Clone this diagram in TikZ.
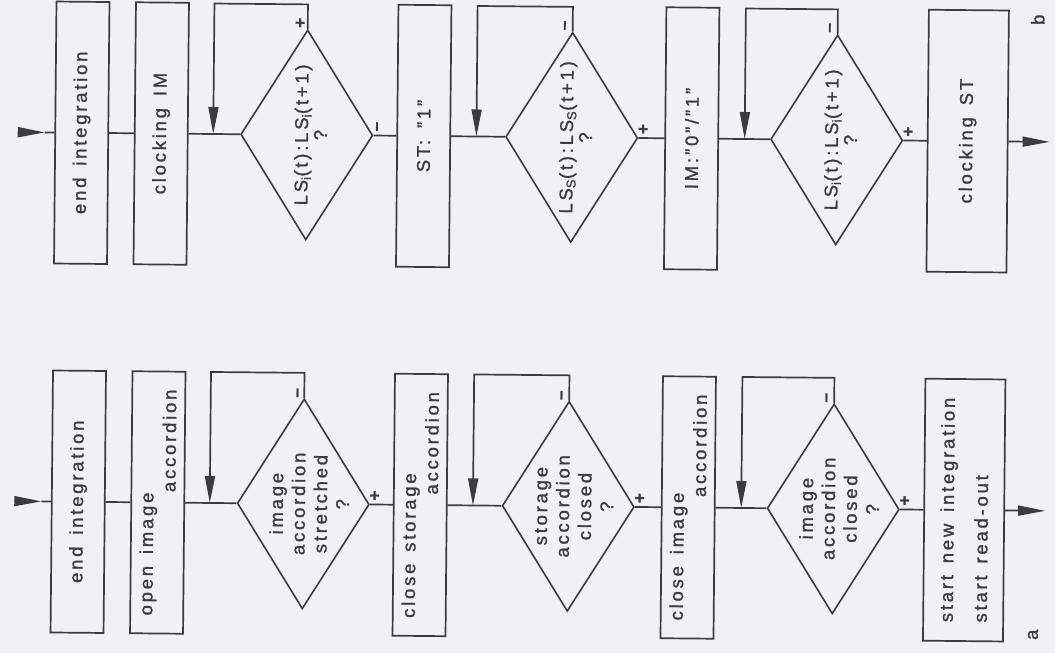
\documentclass[tikz,border=0pt]{standalone}
\usepackage{fontspec}
\setmainfont{Liberation Sans}[LetterSpace=15,WordSpace=1.5,FakeBold=1.3]
\usetikzlibrary{shapes.geometric,arrows.meta}
\definecolor{bgc}{RGB}{240,241,244}
\definecolor{ink}{RGB}{60,60,64}
\newcommand{\fs}{\fontsize{18.5}{22}\selectfont}
\newcommand{\fl}{\fontsize{17}{18}\selectfont\bfseries}
\begin{document}
\begin{tikzpicture}[x=1pt,y=-1pt,
  box/.style={draw=ink,line width=1.7pt,minimum width=53pt,minimum height=262pt,inner sep=0pt},
  dia/.style={draw=ink,line width=1.6pt,shape=diamond,minimum width=132pt,minimum height=210pt,inner sep=0pt},
  txt/.style={rotate=90,text=ink,font=\fs,inner sep=0pt,align=center},
  lbl/.style={rotate=90,text=ink,font=\fl,inner sep=0pt},
  flow/.style={draw=ink,line width=1.7pt},
  tip/.style={-{Triangle[length=27pt,width=10pt]}}]
\fill[bgc] (0,0) rectangle (1055,653);
\useasboundingbox (0,0) rectangle (1055,653);
\begin{scope}[rotate=-0.54,transform shape]
% ---------------- top row (b) ----------------
\node[box] (tb1) at (83,132) {};
\node[txt] (tb1t) at (tb1) {end integration};
\node[box] (tb2) at (162.5,132) {};
\node[txt] (tb2t) at (tb2) {clocking IM};
\node[dia] (td1) at (308,132) {};
\node[txt] (td1t) at (312,132) {LS\textsubscript{i}(t):LS\textsubscript{i}(t+1)\\[-3pt]?};
\node[box] (tb3) at (425,132) {};
\node[txt] (tb3t) at (tb3) {ST: "1"};
\node[dia] (td2) at (573,132) {};
\node[txt] (td2t) at (577,132) {LS\textsubscript{S}(t):LS\textsubscript{S}(t+1)\\[-3pt]?};
\node[box] (tb4) at (693,132) {};
\node[txt] (tb4t) at (tb4) {IM:\,"0"/"1"};
\node[dia] (td3) at (838,132) {};
\node[txt] (td3t) at (842,132) {LS\textsubscript{i}(t):LS\textsubscript{i}(t+1)\\[-3pt]?};
\node[box,minimum width=80pt] (tb5) at (969,132) {};
\node[txt] (tb5t) at (tb5) {clocking ST};
\coordinate (tin) at (19,132);
\coordinate (tinT) at (46,132);
\coordinate (tout) at (1051,132);
\coordinate (tj1) at (214.5,132); \coordinate (tl1a) at (308,1.5); \coordinate (tl1b) at (214.5,1.5);
\coordinate (tj2) at (477.7,132); \coordinate (tl2a) at (573,1.5); \coordinate (tl2b) at (477.7,1.5);
\coordinate (tj3) at (746,132);   \coordinate (tl3a) at (838,1.5); \coordinate (tl3b) at (746,1.5);
\draw[flow,tip] (tin) -- (tinT);
\draw[flow] (tinT) -- (tb1.west);
\draw[flow] (tb1.east) -- (tb2.west);
\draw[flow] (tb2.east) -- (td1.west);
\draw[flow] (td1.east) -- (tb3.west);
\draw[flow] (tb3.east) -- (td2.west);
\draw[flow] (td2.east) -- (tb4.west);
\draw[flow] (tb4.east) -- (td3.west);
\draw[flow] (td3.east) -- (tb5.west);
\draw[flow,tip] (tb5.east) -- (tout);
\draw[flow,tip] (td1.north) -- (tl1a) -- (tl1b) -- (tj1);
\draw[flow,tip] (td2.north) -- (tl2a) -- (tl2b) -- (tj2);
\draw[flow,tip] (td3.north) -- (tl3a) -- (tl3b) -- (tj3);
\node[lbl] (tp1) at (301,20) {+};
\node[lbl] (tm1) at (380,123) {--};
\node[lbl] (tm2) at (567,20) {--};
\node[lbl] (tp2) at (645,123) {+};
\node[lbl] (tm3) at (832,20) {--};
\node[lbl] (tp3) at (910,123) {+};
\node[lbl,font=\fs] (lb) at (1038,10) {b};
% ---------------- bottom row (a) ----------------
\node[box] (bb1) at (83,501) {};
\node[txt] (bb1t) at (bb1) {end integration};
\node[box] (bb2) at (162.5,501) {};
\node[txt] (bb2t) at (bb2) {\makebox[226pt][l]{open image}\\\makebox[226pt][r]{accordion}};
\node[dia] (bd1) at (308,501) {};
\node[txt] (bd1t) at (314,501) {image\\accordion\\stretched\\?};
\node[box] (bb3) at (425,501) {};
\node[txt] (bb3t) at (bb3) {\makebox[226pt][l]{close storage}\\\makebox[226pt][r]{accordion}};
\node[dia] (bd2) at (573,501) {};
\node[txt] (bd2t) at (579,501) {storage\\accordion\\closed\\?};
\node[box] (bb4) at (693,501) {};
\node[txt] (bb4t) at (bb4) {\makebox[226pt][l]{close image}\\\makebox[226pt][r]{accordion}};
\node[dia] (bd3) at (838,501) {};
\node[txt] (bd3t) at (844,501) {image\\accordion\\closed\\?};
\node[box,minimum width=80pt] (bb5) at (969,501) {};
\node[txt,align=left] (bb5t) at (bb5) {start new integration\\[12pt]start read-out};
\coordinate (bin) at (19,501);
\coordinate (binT) at (46,501);
\coordinate (bout) at (1050,501);
\coordinate (bj1) at (214.5,501); \coordinate (bl1a) at (308,370); \coordinate (bl1b) at (214.5,370);
\coordinate (bj2) at (477.7,501); \coordinate (bl2a) at (573,370); \coordinate (bl2b) at (477.7,370);
\coordinate (bj3) at (746,501);   \coordinate (bl3a) at (838,370); \coordinate (bl3b) at (746,370);
\draw[flow,tip] (bin) -- (binT);
\draw[flow] (binT) -- (bb1.west);
\draw[flow] (bb1.east) -- (bb2.west);
\draw[flow] (bb2.east) -- (bd1.west);
\draw[flow] (bd1.east) -- (bb3.west);
\draw[flow] (bb3.east) -- (bd2.west);
\draw[flow] (bd2.east) -- (bb4.west);
\draw[flow] (bb4.east) -- (bd3.west);
\draw[flow] (bd3.east) -- (bb5.west);
\draw[flow,tip] (bb5.east) -- (bout);
\draw[flow,tip] (bd1.north) -- (bl1a) -- (bl1b) -- (bj1);
\draw[flow,tip] (bd2.north) -- (bl2a) -- (bl2b) -- (bj2);
\draw[flow,tip] (bd3.north) -- (bl3a) -- (bl3b) -- (bj3);
\node[lbl] (bm1) at (303,390) {--};
\node[lbl] (bp1) at (380,492) {+};
\node[lbl] (bm2) at (567,390) {--};
\node[lbl] (bp2) at (645,492) {+};
\node[lbl] (bm3) at (832,390) {--};
\node[lbl] (bp3) at (910,492) {+};
\node[lbl,font=\fs] (la) at (1039,625) {a};
\end{scope}
\end{tikzpicture}
\end{document}
